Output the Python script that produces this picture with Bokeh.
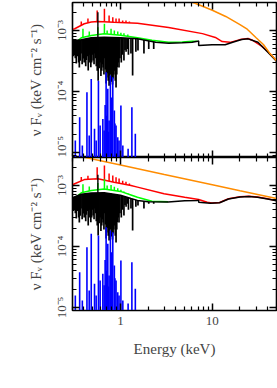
import numpy as np
from bokeh.plotting import figure
from bokeh.layouts import column
from bokeh.models import LogAxis, FixedTicker, CustomJSTickFormatter, Range1d
from bokeh.embed import file_html
from bokeh.resources import INLINE

# ---------------- data (keV, keV cm^-2 s^-1) ----------------
# upper panel continua
black_top_E = [0.3, 0.374, 0.48, 0.664, 1.0, 1.53, 1.74, 2.42, 3.34, 4.7, 6.03, 6.9, 7.1, 7.1, 9.93, 13.8, 17.0, 20.9, 24.5, 31.4, 40.3, 50]
black_top_F = [6.8e-4, 7.05e-4, 7.6e-4, 7.77e-4, 7.6e-4, 7.31e-4, 7.05e-4, 6.44e-4, 6.19e-4, 6.28e-4, 6.44e-4, 6.68e-4, 6.75e-4, 5.68e-4, 5.83e-4, 5.83e-4, 6.5e-4, 7.12e-4, 7.3e-4, 6.44e-4, 4.41e-4, 3.15e-4]
green_top_E = [0.3, 0.317, 0.374, 0.48, 0.664, 1.0, 1.53, 2.2, 3.34, 4.7, 6.03, 6.9]
green_top_F = [5.9e-4, 6.19e-4, 7.6e-4, 8.28e-4, 8.83e-4, 8.4e-4, 7.6e-4, 6.9e-4, 6.4e-4, 6.5e-4, 6.65e-4, 6.7e-4]
red_top_E = [0.3, 0.317, 0.403, 0.48, 0.567, 0.851, 1.53, 3.34, 7.8, 10.8, 12.8, 15.6, 20, 24.5, 27, 34.7, 40.3, 50]
red_top_F = [1.05e-3, 1.07e-3, 1.29e-3, 1.38e-3, 1.41e-3, 1.37e-3, 1.32e-3, 1.12e-3, 8.9e-4, 7.7e-4, 6.6e-4, 6.4e-4, 7.1e-4, 7.4e-4, 7.0e-4, 5.5e-4, 4.5e-4, 3.2e-4]
orange_top_E = [2.0, 4.0, 6.5, 10, 14, 20, 24, 30, 36, 42, 50]
orange_top_F = [4.8e-3, 3.6e-3, 2.8e-3, 2.15e-3, 1.7e-3, 1.25e-3, 1.05e-3, 7.6e-4, 5.9e-4, 4.3e-4, 3.2e-4]

# lower panel continua
black_bot_E = [0.3, 0.374, 0.48, 0.664, 1.0, 1.3, 1.53, 2.0, 3.3, 5.0, 6.9, 7.1, 7.1, 9.5, 12, 15, 20, 25, 31, 40, 50]
black_bot_F = [6.3e-4, 7.2e-4, 7.5e-4, 7.6e-4, 6.9e-4, 6.1e-4, 5.7e-4, 5.4e-4, 5.35e-4, 5.6e-4, 5.7e-4, 5.75e-4, 5.3e-4, 5.1e-4, 5.2e-4, 6.0e-4, 6.5e-4, 6.6e-4, 6.4e-4, 6.0e-4, 5.6e-4]
green_bot_E = [0.3, 0.317, 0.374, 0.48, 0.664, 1.0, 1.3, 1.53, 2.2, 3.3]
green_bot_F = [5.9e-4, 6.2e-4, 7.6e-4, 8.3e-4, 8.8e-4, 8.0e-4, 7.0e-4, 6.4e-4, 5.5e-4, 5.4e-4]
red_bot_E = [0.3, 0.317, 0.403, 0.567, 0.851, 1.3, 1.53, 2.98, 5.0, 7.1, 8.8, 9.9, 12, 15, 20, 25, 31, 40, 50]
red_bot_F = [1.03e-3, 1.07e-3, 1.25e-3, 1.29e-3, 1.13e-3, 1.0e-3, 9.4e-4, 7.3e-4, 6.4e-4, 5.9e-4, 5.3e-4, 5.15e-4, 5.25e-4, 6.05e-4, 6.55e-4, 6.65e-4, 6.45e-4, 6.05e-4, 5.65e-4]
orange_bot_E = [0.3, 1.0, 3.0, 10, 20, 50]
orange_bot_F = [3.2e-3, 2.17e-3, 1.51e-3, 1.03e-3, 8.2e-4, 6.1e-4]

# absorption lines in the black spectrum (line energy, minimum)
dip_E = [0.308, 0.315, 0.322, 0.330, 0.338, 0.345, 0.350, 0.356, 0.364, 0.372, 0.382, 0.393, 0.402, 0.41,
         0.418, 0.425, 0.435, 0.445, 0.455, 0.465, 0.475, 0.485, 0.495, 0.504, 0.515, 0.525, 0.535, 0.545,
         0.558, 0.571, 0.585, 0.60, 0.612, 0.625, 0.636, 0.647, 0.66, 0.672, 0.685, 0.697, 0.708, 0.72,
         0.735, 0.751, 0.765, 0.78, 0.792, 0.805, 0.818, 0.830, 0.845, 0.86, 0.877, 0.894, 0.91, 0.925,
         0.945, 0.963, 0.985, 1.02, 1.05, 1.09, 1.12, 1.15, 1.19, 1.22, 1.30, 1.355, 1.47, 1.55, 1.80, 2.03, 2.3]
dip_F = [3.8e-4, 4.0e-4, 3.5e-4, 2.88e-4, 3.8e-4, 4.5e-4, 3.0e-4, 2.47e-4, 3.2e-4, 4.2e-4, 2.8e-4, 3.47e-4, 3.0e-4, 4.6e-4,
         2.6e-4, 3.3e-4, 3.8e-4, 2.21e-4, 3.0e-4, 4.0e-4, 2.5e-4, 3.0e-4, 4.0e-4, 3.22e-4, 2.8e-4, 4.2e-4, 3.5e-4, 2.6e-4,
         2.2e-4, 1.51e-4, 2.4e-4, 3.0e-4, 1.8e-4, 2.2e-4, 2.8e-4, 2.47e-4, 1.9e-4, 3.5e-4, 2.3e-4, 1.35e-4, 1.7e-4, 2.0e-4,
         1.5e-4, 1.25e-4, 1.4e-4, 1.9e-4, 2.4e-4, 1.45e-4, 1.3e-4, 1.63e-4, 1.9e-4, 2.2e-4, 1.5e-4, 1.16e-4, 1.9e-4, 2.5e-4,
         3.0e-4, 2.47e-4, 3.5e-4, 3.0e-4, 4.0e-4, 3.22e-4, 4.8e-4, 4.5e-4, 5.0e-4, 4.0e-4, 4.2e-4, 1.83e-4, 4.5e-4, 4.7e-4, 4.2e-4, 5.0e-4, 5.0e-4]
black_em_E = [0.567]
black_em_top_F = [2.0e-3]
black_em_bot_F = [1.5e-3]

# emission lines (line energy, peak)
red_line_E = [0.374, 0.442, 0.557, 0.668, 0.751, 0.824, 0.894, 0.965, 1.056, 1.147, 1.25]
red_line_top_F = [1.41e-3, 1.57e-3, 2.13e-3, 2.27e-3, 1.76e-3, 1.65e-3, 1.57e-3, 1.57e-3, 1.46e-3, 1.46e-3, 1.4e-3]
red_line_bot_F = [1.38e-3, 1.45e-3, 2.0e-3, 2.13e-3, 1.57e-3, 1.46e-3, 1.37e-3, 1.3e-3, 1.2e-3, 1.15e-3, 1.08e-3]
green_line_E = [0.39, 0.457, 0.567, 0.668, 0.715, 0.789, 0.857, 0.933, 1.01, 1.09, 1.2]
green_line_top_F = [1.07e-3, 9.6e-4, 1.13e-3, 1.29e-3, 1.0e-3, 1.07e-3, 1.0e-3, 9.6e-4, 9.2e-4, 9.0e-4, 8.6e-4]
green_line_bot_F = [1.05e-3, 9.6e-4, 1.1e-3, 1.27e-3, 1.0e-3, 1.02e-3, 9.5e-4, 9.0e-4, 8.5e-4, 8.0e-4, 7.5e-4]
blue_E = [0.322, 0.359, 0.384, 0.431, 0.456, 0.480, 0.521, 0.543, 0.575, 0.600, 0.642, 0.663, 0.68, 0.697,
          0.71, 0.727, 0.74, 0.751, 0.776, 0.80, 0.824, 0.857, 0.87, 0.894, 0.933, 0.964, 1.01, 1.06, 1.21, 1.33, 1.45]
blue_F = [1.57e-5, 3.79e-5, 1.3e-5, 9.75e-5, 1.9e-5, 1.61e-4, 2.45e-5, 1.57e-5, 1.51e-4, 2.77e-5, 3.56e-5, 2.3e-5, 6.0e-5, 2.07e-4,
          4.0e-5, 1.11e-4, 2.2e-5, 3.35e-5, 1.83e-4, 8.0e-5, 1.71e-4, 4.89e-5, 3.0e-5, 2.77e-5, 1.78e-5, 1.57e-5, 5.89e-5, 1.3e-5, 1.16e-5, 5.53e-5, 2.03e-5]

x_major = [1, 10]
x_minor = [0.3, 0.4, 0.5, 0.6, 0.7, 0.8, 0.9, 2, 3, 4, 5, 6, 7, 8, 9, 20, 30, 40, 50]
y_major = [1e-5, 1e-4, 1e-3]
y_minor = [9e-6, 2e-5, 3e-5, 4e-5, 5e-5, 6e-5, 7e-5, 8e-5, 9e-5,
           2e-4, 3e-4, 4e-4, 5e-4, 6e-4, 7e-4, 8e-4, 9e-4, 2e-3]

FONT = "Liberation Serif"
ORANGE = "#ff8c00"
RED = "#ff0000"
GREEN = "#00ff00"
BLUE = "#0000ff"
FLOOR = 1e-6

sup_fmt = CustomJSTickFormatter(code="""
const sup = {"-":"\u207b","0":"\u2070","1":"\u00b9","2":"\u00b2","3":"\u00b3","4":"\u2074","5":"\u2075","6":"\u2076","7":"\u2077","8":"\u2078","9":"\u2079"};
const e = Math.round(Math.log10(tick));
return "10" + String(e).split("").map(c => sup[c]).join("");
""")
x_fmt = CustomJSTickFormatter(code="return String(Math.round(tick));")


def blank():
    return CustomJSTickFormatter(code="return '';")


def cont_at(E, cE, cF):
    return 10 ** np.interp(np.log10(E), np.log10(cE), np.log10(cF))


def style_axis(ax, labels):
    ax.major_tick_in = 7
    ax.major_tick_out = 0
    ax.minor_tick_in = 4
    ax.minor_tick_out = 0
    ax.major_tick_line_color = "black"
    ax.minor_tick_line_color = "black"
    ax.major_tick_line_width = 1.5
    ax.minor_tick_line_width = 1.2
    ax.axis_line_color = "black"
    ax.axis_line_width = 1.0
    ax.major_label_text_font = FONT
    ax.axis_label_text_font = FONT
    ax.axis_label_text_font_style = "normal"
    ax.axis_label_text_font_size = "15px"
    ax.major_label_text_font_size = "13px"
    if not labels:
        ax.formatter = blank()
        ax.major_label_text_font_size = "0px"
        ax.major_label_standoff = 0


def spikes(p, E, F, cE, cF, color, width):
    base = cont_at(E, cE, cF)
    p.segment(x0=E, y0=base, x1=E, y1=F, line_color=color, line_width=width)


def panel(bottom, ylo, fh, bE, bF, gE, gF, rE, rF, oE, oF, em_F, rl_F, gl_F):
    p = figure(x_axis_type="log", y_axis_type="log",
               x_range=Range1d(0.3, 50), y_range=Range1d(ylo, 2.88e-3),
               frame_width=204, frame_height=fh,
               min_border_left=72, min_border_right=1,
               min_border_top=0 if bottom else 2, min_border_bottom=0,
               output_backend="svg", toolbar_location=None)
    p.grid.visible = False
    p.outline_line_color = "black"
    p.outline_line_width = 1.6
    p.background_fill_color = "white"
    p.border_fill_color = "white"

    xt = FixedTicker(ticks=x_major, minor_ticks=x_minor)
    yt = FixedTicker(ticks=y_major, minor_ticks=y_minor)

    xa = p.xaxis[0]
    xa.ticker = xt
    if bottom:
        style_axis(xa, True)
        xa.formatter = x_fmt
        xa.axis_label = "Energy (keV)"
        xa.major_label_standoff = 6
        xa.axis_label_standoff = 13
    else:
        style_axis(xa, False)

    ya = p.yaxis[0]
    ya.ticker = yt
    style_axis(ya, True)
    ya.formatter = sup_fmt
    ya.major_label_orientation = "vertical"
    ya.major_label_standoff = 3
    ya.axis_label = "\u03bd F\u1d65 (keV cm\u207b\u00b2 s\u207b\u00b9)"
    ya.axis_label_standoff = 8

    top_ax = LogAxis(ticker=FixedTicker(ticks=x_major, minor_ticks=x_minor))
    style_axis(top_ax, False)
    p.add_layout(top_ax, "above")
    right_ax = LogAxis(ticker=FixedTicker(ticks=y_major, minor_ticks=y_minor))
    style_axis(right_ax, False)
    p.add_layout(right_ax, "right")

    # red
    p.line(rE, rF, line_color=RED, line_width=1.5)
    spikes(p, red_line_E, rl_F, rE, rF, RED, 1.5)
    # green
    p.line(gE, gF, line_color=GREEN, line_width=1.5)
    spikes(p, green_line_E, gl_F, gE, gF, GREEN, 1.5)
    # black
    p.line(bE, bF, line_color="black", line_width=1.5)
    spikes(p, dip_E, dip_F, bE, bF, "black", 1.7)
    spikes(p, black_em_E, em_F, bE, bF, "black", 1.4)
    # blue
    p.segment(x0=blue_E, y0=[FLOOR] * len(blue_E), x1=blue_E, y1=blue_F,
              line_color=BLUE, line_width=1.6)
    # orange
    p.line(oE, oF, line_color=ORANGE, line_width=1.5)
    return p


p1 = panel(False, 8.3e-6, 155, black_top_E, black_top_F, green_top_E, green_top_F, red_top_E, red_top_F,
           orange_top_E, orange_top_F, black_em_top_F, red_line_top_F, green_line_top_F)
p2 = panel(True, 8.9e-6, 153, black_bot_E, black_bot_F, green_bot_E, green_bot_F, red_bot_E, red_bot_F,
           orange_bot_E, orange_bot_F, black_em_bot_F, red_line_bot_F, green_line_bot_F)

layout = column(p1, p2, spacing=0)
open("out.html", "w").write(file_html(layout, INLINE))
